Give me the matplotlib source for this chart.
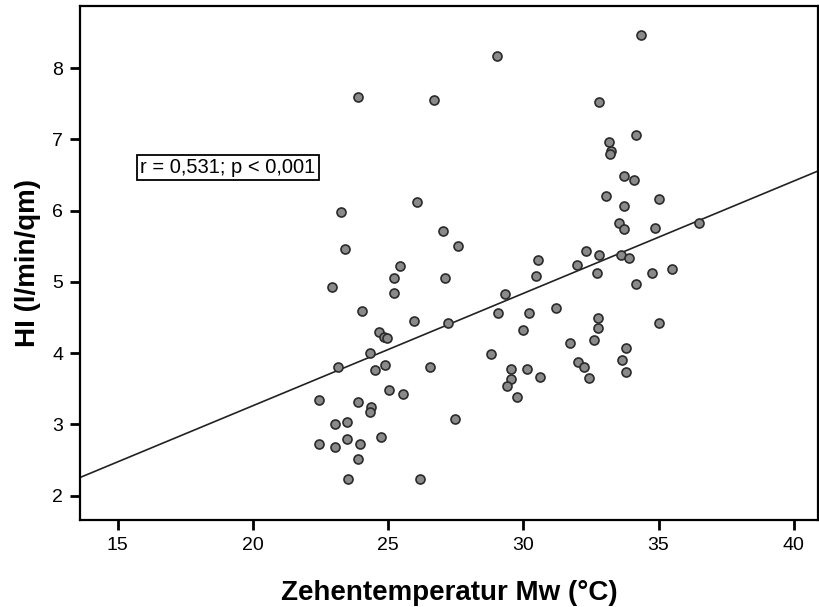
import numpy as np
import matplotlib
matplotlib.use("Agg")
import matplotlib.pyplot as plt

plt.rcParams["font.family"] = ["Liberation Sans", "DejaVu Sans"]

# Zehentemperatur Mw (°C) vs. HI (l/min/qm)
toe_temp = [
    29.02, 23.88, 26.71, 23.27, 26.07, 27.02, 23.42, 27.57, 30.53, 34.37,
    32.81, 33.17, 34.16, 33.26, 33.20, 33.71, 34.11, 33.07, 33.73, 35.02,
    33.52, 33.71, 34.86, 36.51, 32.31, 32.81, 33.60, 33.91, 31.97, 30.46,
    32.71, 34.76, 35.50, 34.16, 31.21, 32.76, 32.76, 35.02, 31.72, 32.62,
    33.81, 32.01, 32.26, 33.66, 33.81, 32.41, 30.62, 25.42, 25.22, 27.10,
    22.91, 25.22, 29.32, 24.02, 29.06, 30.21, 25.96, 27.21, 29.97, 24.65,
    24.85, 24.97, 24.32, 23.16, 24.87, 26.53, 24.53, 28.81, 29.56, 30.15,
    29.56, 29.41, 29.77, 25.02, 25.53, 22.43, 23.88, 24.38, 24.32, 23.03,
    23.48, 27.46, 22.43, 23.03, 23.48, 23.96, 24.73, 23.88, 23.52, 26.17,
]
hi = [
    8.17, 7.59, 7.55, 5.98, 6.12, 5.71, 5.46, 5.50, 5.31, 8.47,
    7.53, 6.97, 7.06, 6.83, 6.80, 6.49, 6.43, 6.21, 6.06, 6.17,
    5.83, 5.74, 5.76, 5.82, 5.43, 5.38, 5.38, 5.33, 5.24, 5.09,
    5.12, 5.12, 5.18, 4.97, 4.64, 4.49, 4.36, 4.43, 4.15, 4.18,
    4.07, 3.88, 3.80, 3.91, 3.73, 3.65, 3.66, 5.22, 5.06, 5.06,
    4.93, 4.84, 4.83, 4.59, 4.57, 4.57, 4.45, 4.43, 4.33, 4.30,
    4.23, 4.21, 4.00, 3.81, 3.83, 3.81, 3.77, 3.99, 3.78, 3.78,
    3.64, 3.54, 3.38, 3.48, 3.43, 3.34, 3.31, 3.25, 3.18, 3.01,
    3.03, 3.08, 2.73, 2.68, 2.79, 2.73, 2.83, 2.51, 2.23, 2.24,
]
x_ticks = [15, 20, 25, 30, 35, 40]
y_ticks = [2, 3, 4, 5, 6, 7, 8]
x_lim = (13.6, 40.9)
y_lim = (1.66, 8.87)
stat_text = "r = 0,531; p < 0,001"

fig = plt.figure(figsize=(8.19, 6.07), dpi=100, facecolor="white")
ax = fig.add_axes([0.0977, 0.1433, 0.9011, 0.8467])

x = np.array(toe_temp)
y = np.array(hi)

# linear fit over the full x range
slope, intercept = np.polyfit(x, y, 1)
xs = np.array(x_lim)
ax.plot(xs, intercept + slope * xs, color="#222222", lw=1.2, zorder=2)

ax.scatter(x, y, s=42, facecolor="#8a8a8a", edgecolor="#2a2a2a",
           linewidths=1.2, zorder=3)

ax.text(19.07, 6.61, stat_text, ha="center", va="center", fontsize=14.5,
        bbox=dict(boxstyle="square,pad=0.15", facecolor="white",
                  edgecolor="black", linewidth=1.3))

ax.set_xlim(*x_lim)
ax.set_ylim(*y_lim)
ax.set_xticks(x_ticks)
ax.set_yticks(y_ticks)
ax.tick_params(axis="both", direction="out", length=7, width=2,
               labelsize=14, pad=5)
for s in ax.spines.values():
    s.set_linewidth(1.6)

ax.set_xlabel("Zehentemperatur Mw (°C)", fontsize=20, fontweight="bold",
              labelpad=19)
ax.set_ylabel("HI (l/min/qm)", fontsize=20, fontweight="bold", labelpad=8)

fig.savefig("out.png", dpi=100, facecolor="white")
